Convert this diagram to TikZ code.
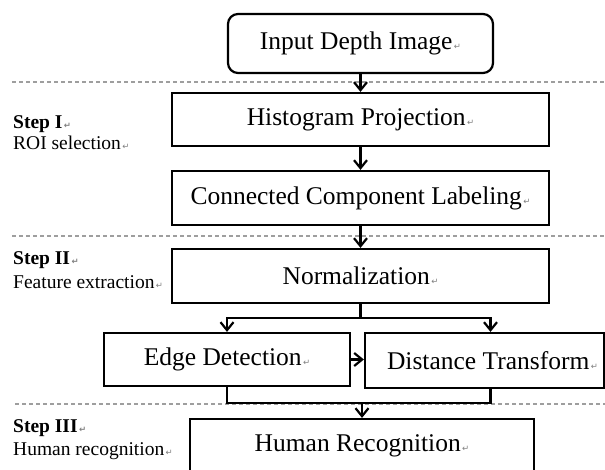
\documentclass[tikz,border=0pt]{standalone}
\usepackage{fontspec}
\setmainfont{Liberation Serif}
\newfontfamily\markfont{DejaVu Sans}
\usetikzlibrary{arrows.meta}
% small grey paragraph mark that follows every text
\newcommand{\pmark}{{\markfont\fontsize{8.5}{8.5}\selectfont\color{black!50}\,↵}}

\begin{document}
\begin{tikzpicture}[x=1pt, y=-1pt,
  box/.style={draw=black, line width=2.2pt, inner sep=0pt,
              font=\fontsize{25.5}{27}\selectfont},
  lbl/.style={anchor=base west, inner sep=0pt,
              font=\fontsize{19.5}{21}\selectfont},
  steplbl/.style={lbl, font=\fontsize{19.5}{21}\selectfont\bfseries},
  sepline/.style={draw=black!38, line width=1.1pt, dash pattern=on 4pt off 3pt},
  link/.style={draw=black, line width=2.2pt},
  arr/.style={link, -{Straight Barb[length=8pt, width=13pt]}}]

\fill[white] (0,0) rectangle (605,470);
\useasboundingbox (0,0) rectangle (605,470);
\clip (0,0) rectangle (605,470);

% stage separators
\draw[sepline] (12,82) -- (605,82);
\draw[sepline] (12,236) -- (605,236);
\draw[sepline] (15,404) -- (605,404);

% stage labels
\node[steplbl] (s1) at (13,129) {Step I\pmark};
\node[lbl] (s1t) at (13,150) {ROI selection\pmark};
\node[steplbl] (s2) at (13,265) {Step II\pmark};
\node[lbl] (s2t) at (13,289) {Feature extraction\pmark};
\node[steplbl] (s3) at (13,432) {Step III\pmark};
\node[lbl] (s3t) at (13,455) {Human recognition\pmark};

% processing blocks
\node[box, rounded corners=10pt, minimum width=265pt, minimum height=59pt]
  (input) at (360.5,43.5) {Input Depth Image\pmark};
\node[box, minimum width=377pt, minimum height=53pt]
  (hist) at (360.5,119.5) {Histogram Projection\pmark};
\node[box, minimum width=377pt, minimum height=54pt]
  (ccl) at (360.5,198) {Connected Component Labeling\pmark};
\node[box, minimum width=377pt, minimum height=54pt]
  (norm) at (360.5,276) {Normalization\pmark};
\node[box, minimum width=246pt, minimum height=53pt]
  (edge) at (227,359.5) {Edge Detection\pmark};
\node[box, minimum width=239pt, minimum height=55pt]
  (dist) at (484.5,360.5) {\hspace*{16pt}Distance Transform\pmark};
\node[box, minimum width=344pt, minimum height=53pt]
  (human) at (362,445.5) {Human Recognition\pmark};

% main flow
\draw[arr] (input) -- (hist);
\draw[arr] (hist) -- (ccl);
\draw[arr] (ccl) -- (norm);

% split into the two feature branches
\coordinate (split) at (360.5,318);
\draw[link] (norm.south) -- (split);
\draw[arr] (split) -| (edge.north);
\draw[arr] (split) -| ([xshift=6pt]dist.north);
\draw[arr] (edge.east) -- (edge.east -| dist.west);

% merge into recognition
\coordinate (merge) at (362,403);
\draw[link] (edge.south) |- (merge);
\draw[link] ([xshift=6pt]dist.south) |- (merge);
\draw[arr] (merge) -- (human.north);
\end{tikzpicture}
\end{document}
